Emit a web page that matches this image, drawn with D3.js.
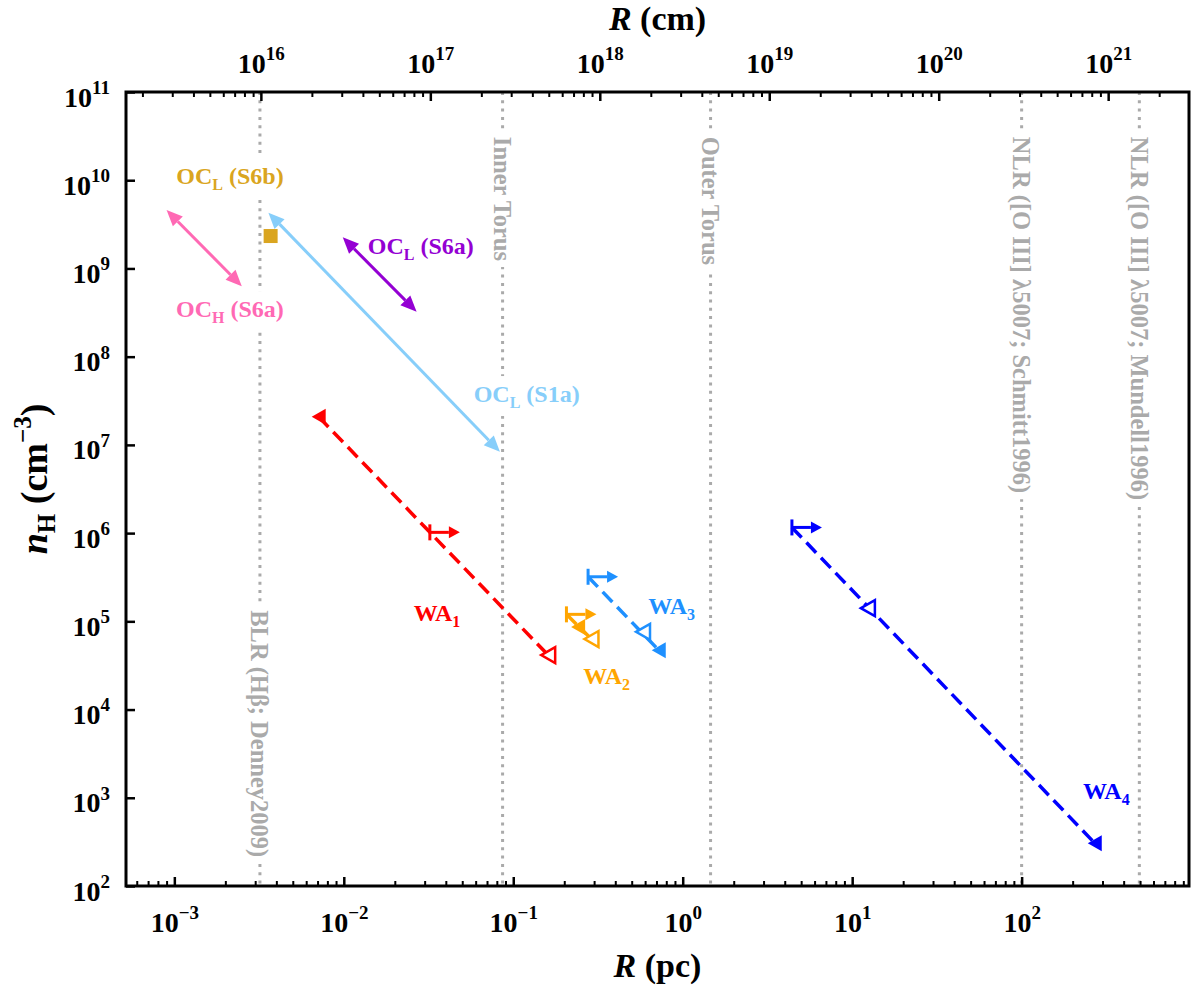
<!DOCTYPE html>
<html>
<head>
<meta charset="utf-8">
<script src="https://cdn.jsdelivr.net/npm/d3@7"></script>
<style>
  body { margin: 0; background: #fff; }
  svg text { font-family: "Liberation Serif", "Times New Roman", serif; font-weight: bold; }
</style>
</head>
<body>
<div id="vis"></div>
<script>
// Dados (R em pc, nH em cm^-3)
const PC_TO_CM = 3.0857e18;
const xDomainPc = [5.185e-4, 972];
const yDomain = [1e2, 1e11];
const xTickExps = [-3, -2, -1, 0, 1, 2];
const topTickExps = [16, 17, 18, 19, 20, 21];
const yTickExps = [2, 3, 4, 5, 6, 7, 8, 9, 10, 11];

// linhas verticais de referência
const refNames = ["BLR (Hβ; Denney2009)", "Inner Torus", "Outer Torus",
  "NLR ([O III] λ5007; Schmitt1996)", "NLR ([O III] λ5007; Mundell1996)"];
const refR = [0.0032, 0.0865, 1.46, 100, 495];
const refLabelN = [212, 3.1e10, 3.1e10, 3.1e10, 3.1e10];
const refAnchor = ["end", "start", "start", "start", "start"];

// linhas coronais ópticas (setas duplas): [R1, R2], [n1, n2]
const ocR = [[9.0e-4, 2.5e-3], [9.86e-3, 0.0269], [3.59e-3, 0.0834]];
const ocN = [[4.59e9, 6.3e8], [2.25e9, 3.23e8], [4.29e9, 8.36e6]];
const ocColors = ["#ff69b4", "#9400d3", "#87cefa"];

// OC_L (S6b): um ponto só
const s6bR = [3.7e-3];
const s6bN = [2.33e9];

// absorvedores quentes WA1..WA4
const waLowerR = [0.0322, 0.206, 0.2764, 4.41];     // |->
const waLowerN = [1.02e6, 1.20e5, 3.2e5, 1.16e6];
const waFilledR = [7.11e-3, 0.2414, 0.722, 270];    // triângulo cheio
const waFilledN = [2.08e7, 8.6e4, 4.71e4, 306];
const waOpenR = [0.1607, 0.2894, 0.583, 12.38];     // triângulo vazio
const waOpenN = [4.14e4, 6.3e4, 7.6e4, 1.41e5];
const waColors = ["#ff0000", "#ffa500", "#1e90ff", "#0000ff"];

// rótulos
const labelMain = ["OC", "OC", "OC", "OC", "WA", "WA", "WA", "WA"];
const labelSub = ["L", "H", "L", "L", "1", "2", "3", "4"];
const labelTail = [" (S6b)", " (S6a)", " (S6a)", " (S1a)", "", "", "", ""];
const labelR = [2.13e-3, 2.13e-3, 0.0285, 0.120, 0.0355, 0.356, 0.861, 316];
const labelN = [9.06e9, 2.81e8, 1.46e9, 3.06e7, 1.0e5, 1.94e4, 1.21e5, 964];
const labelColors = ["#daa520", "#ff69b4", "#9400d3", "#87cefa", "#ff0000", "#ffa500", "#1e90ff", "#0000ff"];

// Tamanho e margens
const W = 1200, H = 990;
const margin = { top: 92, right: 11, bottom: 104, left: 126 };
const width = W - margin.left - margin.right;
const height = H - margin.top - margin.bottom;

const x = d3.scaleLog().domain(xDomainPc).range([0, width]);
const xCm = d3.scaleLog().domain(xDomainPc.map(d => d * PC_TO_CM)).range([0, width]);
const y = d3.scaleLog().domain(yDomain).range([height, 0]);

const svg = d3.select("#vis").append("svg").attr("width", W).attr("height", H);
const g = svg.append("g").attr("transform", `translate(${margin.left},${margin.top})`);

const isPow10 = v => Math.abs(Math.log10(v) - Math.round(Math.log10(v))) < 1e-6;

// linhas de referência pontilhadas
g.selectAll(".ref").data(refR).join("line")
  .attr("x1", d => x(d)).attr("x2", d => x(d))
  .attr("y1", 0).attr("y2", height)
  .attr("stroke", "#aaaaaa").attr("stroke-width", 3)
  .attr("stroke-dasharray", "3,5.3");

const refG = g.selectAll(".reflab").data(refNames).join("g")
  .attr("transform", (d, i) => `translate(${x(refR[i])},${y(refLabelN[i])}) rotate(90)`);
refG.each(function (d, i) {
  const gg = d3.select(this);
  const t = gg.append("text").attr("text-anchor", refAnchor[i]).attr("dy", "0.35em")
    .attr("font-size", 24.5).attr("fill", "#aaaaaa").text(d);
  const bb = t.node().getBBox();
  gg.insert("rect", "text").attr("x", bb.x - 6).attr("y", bb.y - 2)
    .attr("width", bb.width + 12).attr("height", bb.height + 4).attr("fill", "#fff");
});

// rótulos das séries
g.selectAll(".lab").data(labelMain).join("g").attr("class", "lab").each(function (d, i) {
  const gg = d3.select(this);
  const t = gg.append("text").attr("x", x(labelR[i])).attr("y", y(labelN[i]))
    .attr("text-anchor", "middle").attr("fill", labelColors[i]).attr("font-size", 24);
  t.append("tspan").text(d);
  t.append("tspan").attr("font-size", 16).attr("dy", 6).text(labelSub[i]);
  if (labelTail[i]) t.append("tspan").attr("dy", -6).text(labelTail[i]);
  const bb = t.node().getBBox();
  gg.insert("rect", "text").attr("x", bb.x - 5).attr("y", bb.y - 5)
    .attr("width", bb.width + 10).attr("height", bb.height + 10).attr("fill", "#fff");
});

// ponta de seta cheia com a ponta em (x2,y2)
function head(sel, x1, y1, x2, y2, color, len, hw) {
  const a = Math.atan2(y2 - y1, x2 - x1);
  const bx = x2 - len * Math.cos(a), by = y2 - len * Math.sin(a);
  const px = -Math.sin(a) * hw, py = Math.cos(a) * hw;
  sel.append("polygon")
    .attr("points", `${x2},${y2} ${bx + px},${by + py} ${bx - px},${by - py}`)
    .attr("fill", color);
  return [bx, by];
}

// OC: setas duplas
ocR.forEach((rr, i) => {
  const x1 = x(rr[0]), y1 = y(ocN[i][0]), x2 = x(rr[1]), y2 = y(ocN[i][1]);
  const b1 = head(g, x2, y2, x1, y1, ocColors[i], 16, 7);
  const b2 = head(g, x1, y1, x2, y2, ocColors[i], 16, 7);
  g.append("line").attr("x1", b1[0]).attr("y1", b1[1]).attr("x2", b2[0]).attr("y2", b2[1])
    .attr("stroke", ocColors[i]).attr("stroke-width", 3);
});

// OC_L (S6b)
g.selectAll(".s6b").data(s6bR).join("rect")
  .attr("x", (d, i) => x(d) - 7).attr("y", (d, i) => y(s6bN[i]) - 7)
  .attr("width", 14).attr("height", 14).attr("fill", "#daa520");

// WA: linha tracejada + marcadores
waColors.forEach((c, i) => {
  const pts = [[waLowerR[i], waLowerN[i]], [waFilledR[i], waFilledN[i]], [waOpenR[i], waOpenN[i]]]
    .map(p => [x(p[0]), y(p[1])]).sort((a, b) => a[0] - b[0]);
  const p0 = pts[0], p1 = pts[2];
  g.append("line").attr("x1", p0[0]).attr("y1", p0[1]).attr("x2", p1[0]).attr("y2", p1[1])
    .attr("stroke", c).attr("stroke-width", 3.5).attr("stroke-dasharray", "14,7");

  // |->
  const lx = x(waLowerR[i]), ly = y(waLowerN[i]);
  g.append("line").attr("x1", lx).attr("x2", lx).attr("y1", ly - 8).attr("y2", ly + 8)
    .attr("stroke", c).attr("stroke-width", 3);
  const hb = head(g, lx, ly, lx + 30, ly, c, 11, 6);
  g.append("line").attr("x1", lx).attr("x2", hb[0]).attr("y1", ly).attr("y2", ly)
    .attr("stroke", c).attr("stroke-width", 3);

  // triângulos
  const tri = (cx, cy) => `${cx - 7},${cy} ${cx + 7},${cy - 8} ${cx + 7},${cy + 8}`;
  g.append("polygon").attr("points", tri(x(waFilledR[i]), y(waFilledN[i]))).attr("fill", c);
  g.append("polygon").attr("points", tri(x(waOpenR[i]), y(waOpenN[i])))
    .attr("fill", "#fff").attr("stroke", c).attr("stroke-width", 2.5);
});

// eixos
function powLabels(sel, fs, sfs) {
  sel.each(function (d) {
    const e = Math.round(Math.log10(d));
    const t = d3.select(this).text(null).attr("font-size", fs).attr("fill", "#000");
    t.append("tspan").text("10");
    t.append("tspan").attr("font-size", sfs).attr("dy", -0.45 * fs).text(e < 0 ? "\u2212" + (-e) : e);
  });
}

function styleAxis(ax, w) {
  ax.select(".domain").remove();
  ax.selectAll(".tick line").attr("stroke", "#000").attr("stroke-width", w);
}

const xMinor = x.ticks().filter(v => !isPow10(v));
const xCmMinor = xCm.ticks().filter(v => !isPow10(v));

// inferior (pc)
const axB = g.append("g").attr("transform", `translate(0,${height})`)
  .call(d3.axisBottom(x).tickValues(xTickExps.map(e => 10 ** e)).tickSize(-9));
styleAxis(axB, 2.5);
axB.selectAll(".tick text").attr("y", 46).attr("dy", 0).call(powLabels, 28, 19);
const axBm = g.append("g").attr("transform", `translate(0,${height})`)
  .call(d3.axisBottom(x).tickValues(xMinor).tickSize(-5).tickFormat(""));
styleAxis(axBm, 2);

// superior (cm)
const axT = g.append("g")
  .call(d3.axisTop(xCm).tickValues(topTickExps.map(e => 10 ** e)).tickSize(-9));
styleAxis(axT, 2.5);
axT.selectAll(".tick text").attr("y", -19).attr("dy", 0).call(powLabels, 28, 19);
const axTm = g.append("g")
  .call(d3.axisTop(xCm).tickValues(xCmMinor).tickSize(-5).tickFormat(""));
styleAxis(axTm, 2);

// esquerdo
const axL = g.append("g")
  .call(d3.axisLeft(y).tickValues(yTickExps.map(e => 10 ** e)).tickSize(-9));
styleAxis(axL, 2.5);
axL.selectAll(".tick text").attr("x", -16).attr("dy", 14).call(powLabels, 28, 19);

// moldura
g.append("rect").attr("width", width).attr("height", height)
  .attr("fill", "none").attr("stroke", "#000").attr("stroke-width", 3);

// títulos
const tTop = svg.append("text").attr("x", margin.left + width / 2).attr("y", 30)
  .attr("text-anchor", "middle").attr("font-size", 34);
tTop.append("tspan").attr("font-style", "italic").text("R");
tTop.append("tspan").text(" (cm)");

const tBot = svg.append("text").attr("x", margin.left + width / 2).attr("y", 977)
  .attr("text-anchor", "middle").attr("font-size", 34);
tBot.append("tspan").attr("font-style", "italic").text("R");
tBot.append("tspan").text(" (pc)");

const tY = svg.append("text").attr("transform", `translate(47,${margin.top + height / 2 - 10}) rotate(-90)`)
  .attr("text-anchor", "middle").attr("font-size", 38);
tY.append("tspan").attr("font-style", "italic").text("n");
tY.append("tspan").attr("font-size", 25).attr("dy", 8).text("H");
tY.append("tspan").attr("dy", -8).text(" (cm");
tY.append("tspan").attr("font-size", 25).attr("dy", -16).text("\u22123");
tY.append("tspan").attr("dy", 16).text(")");
</script>
</body>
</html>
